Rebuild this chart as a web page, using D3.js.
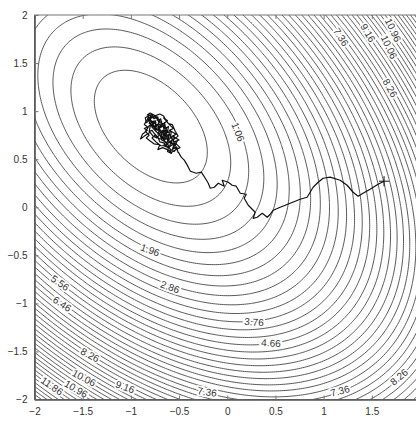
<!DOCTYPE html>
<html>
<head>
<meta charset="utf-8">
<script src="https://cdn.jsdelivr.net/npm/d3@7"></script>
<style>
  body { margin: 0; background: #fff; }
  text { font-family: "Liberation Sans", Arial, sans-serif; }
</style>
</head>
<body>
<svg id="chart"></svg>
<script>
// axis ticks (the label at x = 2 falls outside the picture, so it has none)
const xTicks = [-2, -1.5, -1, -0.5, 0, 0.5, 1, 1.5, 2];
const xTickLabels = ["\u22122", "\u22121.5", "\u22121", "\u22120.5", "0", "0.5", "1", "1.5", ""];
const yTicks = [-2, -1.5, -1, -0.5, 0, 0.5, 1, 1.5, 2];
const yTickLabels = ["\u22122", "\u22121.5", "\u22121", "\u22120.5", "0", "0.5", "1", "1.5", "2"];

// quadratic bowl: f = fMin + a*u^2 + b*u*v + c*v^2
const bowlCenter = [-0.793, 0.839];
const bowlMin = 0.16;
const bowlCoef = [1.1, 1.0, 1.1];

// contour levels (every third one is labelled)
const levels = [0.16, 0.46, 0.76, 1.06, 1.36, 1.66, 1.96, 2.26, 2.56, 2.86, 3.16, 3.46,
  3.76, 4.06, 4.36, 4.66, 4.96, 5.26, 5.56, 5.86, 6.16, 6.46, 6.76, 7.06, 7.36, 7.66,
  7.96, 8.26, 8.56, 8.86, 9.16, 9.46, 9.76, 10.06, 10.36, 10.66, 10.96, 11.26, 11.56,
  11.86, 12.16, 12.46, 12.76, 13.06, 13.36, 13.66, 13.96];

// clabel texts and where they sit (data coords)
const labelText = ["1.06", "1.96", "2.86", "3.76", "4.66", "5.56", "6.46", "8.26", "10.06",
  "10.96", "11.86", "9.16", "7.36", "7.36", "8.26", "7.36", "9.16", "10.96", "10.06", "8.26"];
const labelX = [0.112, -0.80, -0.594, 0.278, 0.454, -1.735, -1.714, -1.424, -1.486,
  -1.569, -1.818, -1.061, -0.21, 1.17, 1.782, 1.18, 1.46, 1.72, 1.678, 1.689];
const labelY = [0.783, -0.445, -0.83, -1.194, -1.413, -0.788, -1.006, -1.537, -1.776,
  -1.891, -1.86, -1.87, -1.922, -1.911, -1.766, 1.771, 1.813, 1.844, 1.667, 1.24];
const labelAngle = [68, 20, 20, 5, 3, 35, 33, 28, 28, 30, 35, 20, 8, -15, -40, 57, 60, 65, 65, 60];

// SGD trajectory, from the start (+) to the noisy cluster
const pathX = [1.627, 1.565, 1.482, 1.409, 1.358, 1.306, 1.244, 1.171, 1.067, 0.995, 0.943,
  0.891, 0.860, 0.829, 0.756, 0.653, 0.549, 0.477, 0.446, 0.415, 0.363, 0.311, 0.269, 0.290,
  0.218, 0.176, 0.197, 0.135, 0.093, 0.052, 0.010, -0.052, -0.031, -0.093, -0.135, -0.176,
  -0.197, -0.228, -0.269, -0.321, -0.383, -0.415, -0.446, -0.477, -0.508,
  -0.51, -0.53, -0.57, -0.55, -0.60, -0.58, -0.63, -0.61, -0.66, -0.64, -0.69, -0.67, -0.72,
  -0.70, -0.75, -0.73, -0.78, -0.76, -0.81, -0.79, -0.83, -0.81, -0.77, -0.74, -0.72,
  -0.69, -0.68, -0.65, -0.64, -0.61, -0.62, -0.58, -0.59, -0.55, -0.56, -0.52, -0.54, -0.58,
  -0.62, -0.60, -0.65, -0.67, -0.63, -0.66, -0.70, -0.72, -0.75, -0.74, -0.79, -0.82, -0.86,
  -0.83, -0.88, -0.90, -0.86, -0.80, -0.77, -0.73, -0.70, -0.68, -0.64, -0.66, -0.61, -0.62,
  -0.58, -0.60, -0.63, -0.66, -0.70, -0.72, -0.76, -0.78, -0.81, -0.80, -0.77, -0.80, -0.84,
  -0.85, -0.82, -0.78, -0.76, -0.72, -0.71, -0.68, -0.69, -0.65, -0.66, -0.62, -0.64, -0.60,
  -0.63, -0.67, -0.65, -0.69, -0.71, -0.68, -0.73, -0.75, -0.77, -0.74, -0.79, -0.81, -0.78,
  -0.83, -0.80, -0.76, -0.73, -0.70, -0.72, -0.67, -0.66, -0.63, -0.64, -0.60, -0.61, -0.57,
  -0.58, -0.54, -0.56, -0.52, -0.55, -0.59, -0.62, -0.66, -0.69, -0.73, -0.77, -0.80, -0.76,
  -0.71, -0.67, -0.63, -0.68, -0.72,
  -0.62, -0.66, -0.60, -0.56, -0.60, -0.53, -0.57, -0.50, -0.55, -0.49, -0.53, -0.58, -0.62,
  -0.67, -0.72, -0.70, -0.76, -0.80, -0.84, -0.81, -0.85, -0.82, -0.86, -0.84, -0.80, -0.75,
  -0.70, -0.66, -0.64, -0.61, -0.57, -0.54, -0.51, -0.55, -0.60, -0.64, -0.69, -0.74, -0.78,
  -0.75, -0.70, -0.66, -0.62, -0.58];
const pathY = [0.271, 0.240, 0.188, 0.146, 0.115, 0.156, 0.229, 0.281, 0.313, 0.302, 0.260,
  0.208, 0.156, 0.104, 0.083, 0.042, 0.000, -0.031, -0.073, -0.104, -0.063, -0.104, -0.115,
  -0.052, 0.021, 0.094, 0.135, 0.146, 0.219, 0.229, 0.260, 0.281, 0.219, 0.250, 0.208, 0.198,
  0.250, 0.302, 0.365, 0.354, 0.375, 0.438, 0.490, 0.521, 0.573,
  0.57, 0.63, 0.60, 0.66, 0.63, 0.69, 0.66, 0.72, 0.70, 0.75, 0.73, 0.79, 0.76,
  0.82, 0.80, 0.86, 0.83, 0.89, 0.87, 0.93, 0.91, 0.96, 0.93, 0.95, 0.90,
  0.92, 0.86, 0.88, 0.82, 0.84, 0.78, 0.79, 0.73, 0.74, 0.68, 0.69, 0.64, 0.66,
  0.70, 0.76, 0.74, 0.80, 0.80, 0.85, 0.84, 0.80, 0.84, 0.88, 0.86, 0.84, 0.82,
  0.80, 0.76, 0.71, 0.74, 0.78, 0.74, 0.72, 0.76, 0.70, 0.68, 0.64, 0.62, 0.58,
  0.56, 0.62, 0.64, 0.67, 0.68, 0.73, 0.77, 0.80, 0.79, 0.84, 0.88, 0.91, 0.88,
  0.93, 0.95, 0.97, 0.92, 0.94, 0.88, 0.89, 0.83, 0.86, 0.78, 0.80, 0.74, 0.70,
  0.71, 0.73, 0.79, 0.77, 0.82, 0.84, 0.85, 0.81, 0.86, 0.90, 0.89, 0.93, 0.95,
  0.96, 0.98, 0.96, 0.92, 0.90, 0.86, 0.87, 0.82, 0.83, 0.77, 0.78, 0.72, 0.72,
  0.67, 0.66, 0.61, 0.62, 0.58, 0.60, 0.66, 0.70, 0.75, 0.78, 0.82, 0.87, 0.84,
  0.80, 0.76, 0.75, 0.79, 0.83,
  0.90, 0.93, 0.86, 0.82, 0.80, 0.76, 0.74, 0.70, 0.68, 0.62, 0.60, 0.57, 0.60,
  0.62, 0.60, 0.65, 0.66, 0.69, 0.72, 0.75, 0.79, 0.83, 0.86, 0.90, 0.92, 0.95,
  0.97, 0.95, 0.91, 0.87, 0.86, 0.79, 0.74, 0.71, 0.68, 0.64, 0.64, 0.68, 0.72,
  0.75, 0.71, 0.72, 0.74, 0.76];

const width = 416;
const height = 423;
const margin = { top: 15, right: -4, bottom: 23.5, left: 34.5 };

const svg = d3.select("#chart").attr("width", width).attr("height", height);

const x = d3.scaleLinear().domain([-2, 2]).range([margin.left, width - margin.right]);
const y = d3.scaleLinear().domain([-2, 2]).range([height - margin.bottom, margin.top]);

svg.append("defs").append("clipPath").attr("id", "plot-clip")
  .append("rect")
  .attr("x", x(-2)).attr("y", y(2))
  .attr("width", x(2) - x(-2)).attr("height", y(-2) - y(2));

// sample the bowl on a grid a bit wider than the axes
const step = 0.02;
const g0 = -2.2;
const n = 221;
const bowl = (px, py) => {
  const u = px - bowlCenter[0], v = py - bowlCenter[1];
  return bowlMin + bowlCoef[0] * u * u + bowlCoef[1] * u * v + bowlCoef[2] * v * v;
};
const grid = new Array(n * n);
for (let j = 0; j < n; j++) {
  for (let i = 0; i < n; i++) {
    grid[j * n + i] = bowl(g0 + i * step, g0 + j * step);
  }
}

const contours = d3.contours().size([n, n]).thresholds(levels)(grid);

const toScreen = d3.geoTransform({
  point(cx, cy) {
    this.stream.point(x(g0 + (cx - 0.5) * step), y(g0 + (cy - 0.5) * step));
  }
});
const path = d3.geoPath(toScreen);

const plot = svg.append("g").attr("clip-path", "url(#plot-clip)");

plot.selectAll("path.contour")
  .data(contours)
  .enter()
  .append("path")
  .attr("class", "contour")
  .attr("d", path)
  .attr("fill", "none")
  .attr("stroke", "#3a3a3a")
  .attr("stroke-width", 0.85);

// contour labels with a white halo that breaks the line
plot.selectAll("text.clabel")
  .data(labelText)
  .enter()
  .append("text")
  .attr("class", "clabel")
  .attr("transform", (d, i) => `translate(${x(labelX[i])},${y(labelY[i])}) rotate(${labelAngle[i]})`)
  .attr("text-anchor", "middle")
  .attr("dy", "0.35em")
  .attr("font-size", 10)
  .attr("fill", "#333")
  .attr("stroke", "#fff")
  .attr("stroke-width", 3.5)
  .attr("paint-order", "stroke")
  .text(d => d);

// trajectory
const traj = pathX.map((d, i) => [d, pathY[i]]);
plot.append("path")
  .datum(traj)
  .attr("d", d3.line().x(d => x(d[0])).y(d => y(d[1])))
  .attr("fill", "none")
  .attr("stroke", "#111")
  .attr("stroke-width", 1.2)
  .attr("stroke-linejoin", "round");

// start marker
const sx = x(pathX[0]), sy = y(pathY[0]);
plot.append("path")
  .attr("d", `M${sx - 5},${sy}H${sx + 5}M${sx},${sy - 5}V${sy + 5}`)
  .attr("stroke", "#111")
  .attr("stroke-width", 1);

// frame
svg.append("rect")
  .attr("x", x(-2)).attr("y", y(2))
  .attr("width", x(2) - x(-2)).attr("height", y(-2) - y(2))
  .attr("fill", "none")
  .attr("stroke", "#777")
  .attr("stroke-width", 1);

// axes, matlab style: ticks pointing inward
svg.append("g")
  .attr("transform", `translate(0,${y(-2)})`)
  .call(d3.axisBottom(x).tickValues(xTicks).tickSizeInner(-4).tickSizeOuter(0).tickPadding(8)
    .tickFormat((d, i) => xTickLabels[i]))
  .call(g => g.select(".domain").attr("stroke", "#555").attr("stroke-width", 1.6))
  .call(g => g.selectAll("line").attr("stroke", "#777"))
  .call(g => g.selectAll("text").attr("font-size", 10).attr("fill", "#333").style("font-family", "Liberation Sans, Arial, sans-serif"));

svg.append("g")
  .attr("transform", `translate(0,${y(2)})`)
  .call(d3.axisTop(x).tickValues(xTicks).tickSizeInner(-4).tickSizeOuter(0).tickFormat(""))
  .call(g => g.select(".domain").remove())
  .call(g => g.selectAll("line").attr("stroke", "#777"));

svg.append("g")
  .attr("transform", `translate(${x(-2)},0)`)
  .call(d3.axisLeft(y).tickValues(yTicks).tickSizeInner(-4).tickSizeOuter(0).tickPadding(7)
    .tickFormat((d, i) => yTickLabels[i]))
  .call(g => g.select(".domain").attr("stroke", "#555").attr("stroke-width", 1.6))
  .call(g => g.selectAll("line").attr("stroke", "#777"))
  .call(g => g.selectAll("text").attr("font-size", 10).attr("fill", "#333").style("font-family", "Liberation Sans, Arial, sans-serif"));
</script>
</body>
</html>
